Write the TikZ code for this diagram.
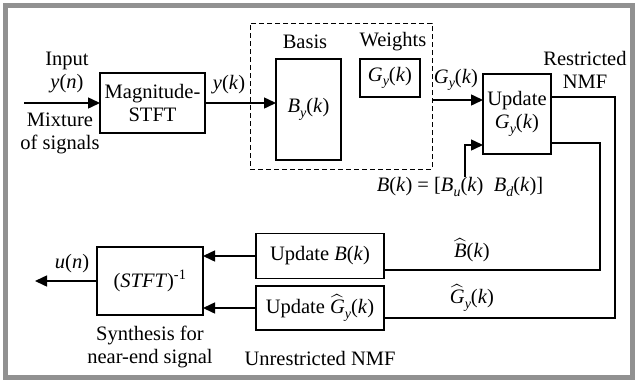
\documentclass[tikz,border=0pt]{standalone}
\usepackage{amsmath}
\usepackage{fontspec}
\setmainfont{Liberation Serif}
\usetikzlibrary{positioning}
\usetikzlibrary{arrows.meta}

\definecolor{framegray}{RGB}{145,145,145}
\newcommand{\iv}[1]{\textit{#1}}
\newcommand{\sub}[1]{\raisebox{-0.5ex}{\fontsize{14}{14}\selectfont\iv{#1}}}
\newcommand{\Gy}{\iv{G}\sub{y}(\iv{k})}
\newcommand{\wh}[1]{$\widehat{\mbox{\iv{#1}}}$}

\begin{document}
\begin{tikzpicture}[
        x = 1pt, y = -1pt,
        font = \fontsize{20.5}{23}\selectfont,
        block/.style = {
            draw,
            rectangle,
            line width = 1.5pt,
            minimum width = #1,
            inner sep = 0pt,
            outer sep = 0pt,
            align = center
        },
        block/.default = 100pt,
        sig/.style = {line width = 1.5pt, -{Triangle[length=12pt, width=11pt]}},
        wire/.style = {line width = 1.5pt},
        lab/.style = {inner sep = 0pt, align = center}
    ]
    \useasboundingbox (0,0) rectangle (638,383);
    \draw[framegray, line width = 5.5pt] (5.5,5.5) rectangle (632.5,377.5);

    % forward path
    \node[block=105pt, minimum height=60pt] (mag) at (152.5,103) {Magnitude-\\STFT};
    \node[block=182pt, minimum height=146pt, dash pattern=on 5pt off 3pt, line width=1pt] (nmf) at (341,96) {};
    \node[block=65pt, minimum height=101pt] (basis) at (308.5,109.5) {\iv{B}\sub{y}(\iv{k})};
    \node[block=60pt, minimum height=38pt] (weights) at (390,78) {\Gy};
    \node[lab] (basislab) at (305,42) {Basis};
    \node[lab] (weightslab) at (393,42) {Weights};
    \node[block=68pt, minimum height=80pt] (upd) at (517,114) {Update\\\Gy};
    \node[lab] (rnmf) at (585,70) {Restricted\\NMF};
    \node[lab] (blab) at (460,187) {\iv{B}(\iv{k}) = [\iv{B}\sub{u}(\iv{k})\ \ \iv{B}\sub{d}(\iv{k})]};

    % backward path
    \node[block=128pt, minimum height=45pt] (updB) at (320,256) {Update \iv{B}(\iv{k})};
    \node[block=128pt, minimum height=44pt] (updG) at (320,308) {Update \wh{G}\sub{y}(\iv{k})};
    \node[lab] (unmf) at (320,358) {Unrestricted NMF};
    \node[block=106pt, minimum height=68pt] (istft) at (150,281) {(\iv{STFT})\textsuperscript{-1}};
    \node[lab] (synth) at (150,347) {Synthesis for\\near-end signal};

    \coordinate (src) at (24,103);
    \coordinate (out) at (35,281);
    \coordinate (turnA) at (615,97);
    \coordinate (turnB) at (600,143);

    \draw[sig] (src) -- (mag.west);
    \node[lab] (inlab) at (67,72) {Input\\\iv{y}(\iv{n})};
    \node[lab] (mixlab) at (60,133) {Mixture\\of signals};
    \draw[sig] (mag.east) -- (mag.east -| basis.west);
    \node[lab] (yklab) at (229,85) {\iv{y}(\iv{k})};
    \draw[sig] (nmf.east |- 0,100) -- (upd.west |- 0,100);
    \node[lab] (gklab) at (456,80) {\Gy};
    \draw[sig] (blab.north -| 465,0) |- (upd.west |- 0,145);
    \draw[wire] (upd.east |- turnA) -- (turnA) |- (updG.east |- 0,318);
    \draw[wire] (upd.east |- turnB) -- (turnB) |- (updB.east |- 0,270);
    \node[lab] (bhat) at (472,250) {\wh{B}(\iv{k})};
    \node[lab] (ghat) at (472,298) {\wh{G}\sub{y}(\iv{k})};
    \draw[sig] (updB.west) -- (istft.east |- updB.west);
    \draw[sig] (updG.west) -- (istft.east |- updG.west);
    \draw[sig] (istft.west) -- (out);
    \node[lab] (unlab) at (72,264) {\iv{u}(\iv{n})};
\end{tikzpicture}
\end{document}
